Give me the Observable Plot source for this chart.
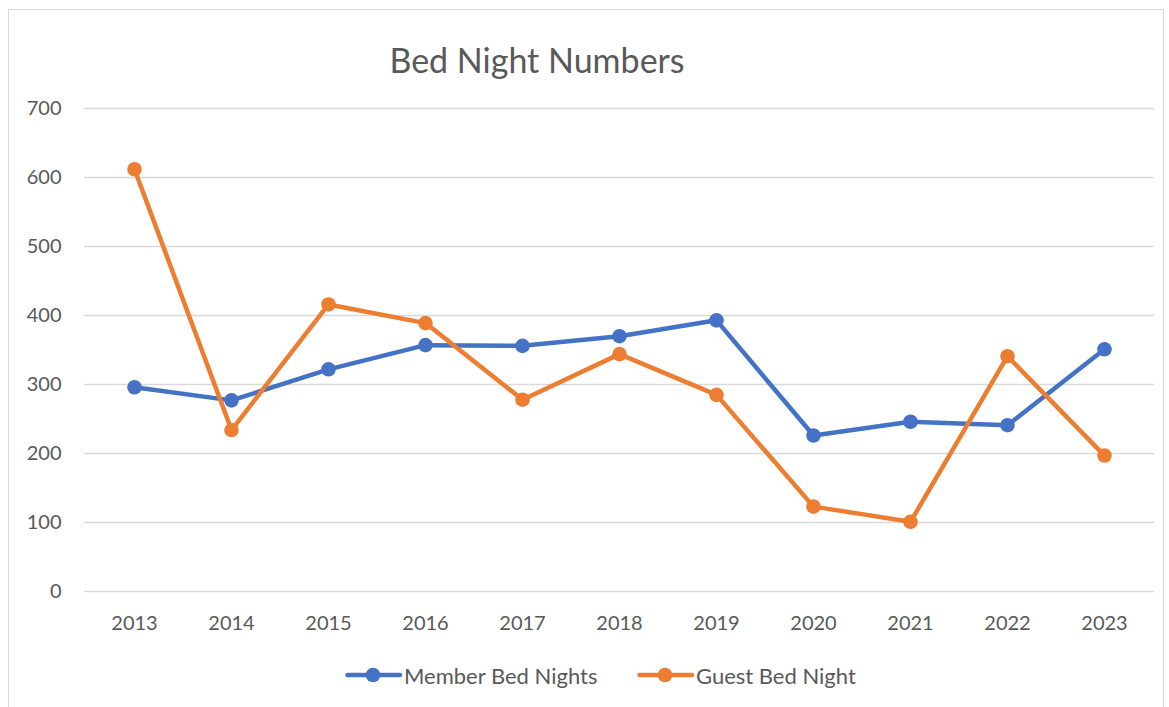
<!DOCTYPE html>
<html>
<head>
<meta charset="utf-8">
<script src="https://cdn.jsdelivr.net/npm/d3@7"></script>
<script src="https://cdn.jsdelivr.net/npm/@observablehq/plot@0.6"></script>
<style>
  html, body { margin: 0; padding: 0; background: #fff; }
  body { width: 1169px; height: 707px; position: relative; overflow: hidden; font-family: Lato, "Open Sans", sans-serif; color: #595959; }
  #frame { position: absolute; left: 8px; top: 9px; width: 1156px; height: 700px; border: 1px solid #d9d9d9; box-sizing: border-box; }
  #title { position: absolute; left: 337px; top: 39px; width: 400px; text-align: center; font-size: 34px; line-height: 42px; }
  #chart { position: absolute; left: 0; top: 90px; }
  #legend { position: absolute; left: 0; top: 661px; width: 1169px; height: 28px; }
  .item { position: absolute; top: 0; height: 28px; display: flex; align-items: center; font-size: 22px; }
</style>
</head>
<body>
<div id="frame"></div>
<div id="title">Bed Night Numbers</div>
<div id="chart"></div>
<div id="legend"></div>
<script>
const years = ["2013","2014","2015","2016","2017","2018","2019","2020","2021","2022","2023"];
const memberBedNights = [296, 277, 322, 357, 356, 370, 393, 226, 246, 241, 351];
const guestBedNight = [612, 234, 416, 389, 278, 344, 285, 123, 101, 341, 197];
const seriesNames = ["Member Bed Nights", "Guest Bed Night"];
const seriesColors = ["#4472C4", "#ED7D31"];
const yTicks = [0, 100, 200, 300, 400, 500, 600, 700];

const rows = [];
years.forEach((y, i) => {
  rows.push({year: y, value: memberBedNights[i], series: seriesNames[0]});
  rows.push({year: y, value: guestBedNight[i], series: seriesNames[1]});
});

const chart = Plot.plot({
  width: 1169,
  height: 546,
  marginLeft: 84,
  marginRight: 15,
  marginTop: 18,
  marginBottom: 45,
  style: {fontFamily: "Lato, 'Open Sans', sans-serif", fontSize: "20px", color: "#595959", background: "transparent", overflow: "visible"},
  x: {type: "point", domain: years, padding: 0.5, label: null},
  y: {domain: [0, 700], label: null},
  color: {domain: seriesNames, range: seriesColors},
  marks: [
    Plot.gridY(yTicks, {stroke: "#d9d9d9", strokeOpacity: 1, strokeWidth: 1.5}),
    Plot.axisX({tickSize: 0, tickPadding: 24, fontSize: 20, label: null}),
    Plot.axisY(yTicks, {tickSize: 0, tickPadding: 23, fontSize: 20, label: null}),
    Plot.line(rows, {x: "year", y: "value", z: "series", stroke: "series", strokeWidth: 4.5, strokeLinecap: "round", strokeLinejoin: "round"}),
    Plot.dot(rows, {x: "year", y: "value", fill: "series", r: 7.3})
  ]
});
document.getElementById("chart").appendChild(chart);

// legend
const legend = document.getElementById("legend");
const lefts = [345, 637];
seriesNames.forEach((name, i) => {
  const item = document.createElement("div");
  item.className = "item";
  item.style.left = lefts[i] + "px";
  item.innerHTML = `<svg width="58" height="28"><line x1="2.5" y1="14" x2="55" y2="14" stroke="${seriesColors[i]}" stroke-width="4.5" stroke-linecap="round"/><circle cx="28" cy="14" r="7.3" fill="${seriesColors[i]}"/></svg><span style="margin-left:1px">${name}</span>`;
  legend.appendChild(item);
});
</script>
</body>
</html>
